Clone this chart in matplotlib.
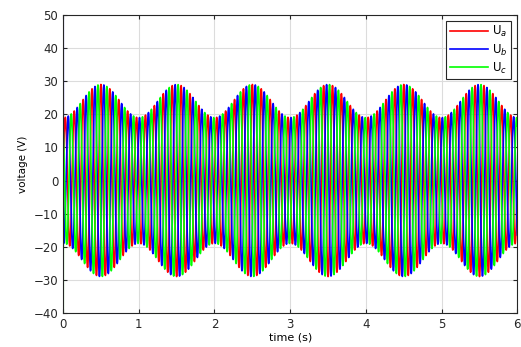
import numpy as np
import matplotlib.pyplot as plt

# three-phase voltage, amplitude-modulated supply
f_carrier = 8.5        # Hz
f_env = 1.0            # Hz, envelope beat
amp_mean = 24.0        # V
amp_swing = 5.0        # V
phase_shift = [0.0, -2*np.pi/3, 2*np.pi/3]
labels = ['U$_a$', 'U$_b$', 'U$_c$']
colors = ['#ff0000', '#0000ff', '#00ff00']

# switching spike at t=0 (values off the scale)
spike_t = [0.0, 0.0015]
spike_v = [[0.0, 0.0], [80.0, 80.0], [80.0, -80.0]]

t = np.linspace(0.003, 6, 60000)
env = amp_mean - amp_swing*np.cos(2*np.pi*f_env*t)

fig = plt.figure(figsize=(5.21, 3.47), dpi=100)
ax = fig.add_axes([0.121, 0.098, 0.872, 0.859])

for k in range(3):
    u = env*np.sin(2*np.pi*f_carrier*t + phase_shift[k])
    tt = np.concatenate([spike_t, t])
    uu = np.concatenate([spike_v[k], u])
    ax.plot(tt, uu, color=colors[k], lw=1.2, label=labels[k])

ax.set_xlim(0, 6)
ax.set_ylim(-40, 50)
ax.set_xticks(range(0, 7))
ax.set_yticks(range(-40, 51, 10))
ax.grid(True, color='#dcdcdc', lw=0.8)
ax.set_axisbelow(True)
ax.tick_params(direction='in', top=True, right=True, labelsize=8.5,
               length=3, color='#262626', labelcolor='#262626')
for s in ax.spines.values():
    s.set_color('#262626')
    s.set_linewidth(0.8)
ax.set_xlabel('time (s)', fontsize=8, labelpad=1)
ax.set_ylabel('voltage (V)', fontsize=7.5, labelpad=4)

leg = ax.legend(loc='upper right', fontsize=8.5, fancybox=False,
                framealpha=1, edgecolor='#262626', handlelength=3.2,
                borderpad=0.3, labelspacing=0.25, handletextpad=0.4,
                borderaxespad=0.5)
leg.get_frame().set_linewidth(0.8)

fig.savefig('out.png', dpi=100)
